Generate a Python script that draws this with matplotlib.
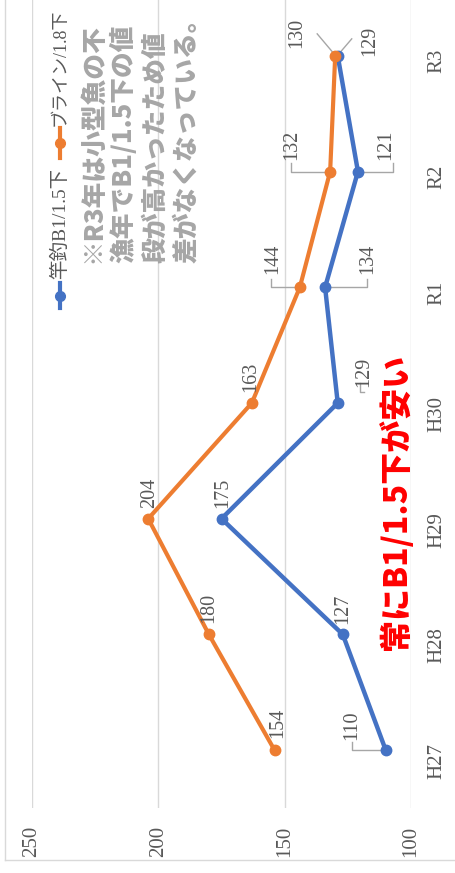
import numpy as np
import matplotlib.pyplot as plt
from matplotlib.lines import Line2D

plt.rcParams['font.family'] = ['Liberation Serif', 'Noto Sans CJK JP']

# data (chart is drawn rotated: values run right-to-left, years bottom-to-top)
years = ['H27', 'H28', 'H29', 'H30', 'R1', 'R2', 'R3']
pole = [110, 127, 175, 129, 134, 121, 129]      # 竿釣B1/1.5下
brine = [154, 180, 204, 163, 144, 132, 130]     # ブライン/1.8下
value_ticks = [100, 150, 200, 250]
series_names = ['竿釣B1/1.5下', 'ブライン/1.8下']
note_lines = ['※R3年は小型魚の不', '漁年でB1/1.5下の値', '段が高かったため値', '差がなくなっている。']
callout = '常にB1/1.5下が安い'

BLUE = '#4472C4'
ORANGE = '#ED7D31'
GRAY = '#595959'

W, H = 455, 873
fig = plt.figure(figsize=(W / 100, H / 100), dpi=100)


def fx(px):
    return px / W


def fy(py):
    return 1 - py / H


ax = fig.add_axes([fx(32), fy(808), fx(411) - fx(32), fy(-2) - fy(808)])
idx = np.arange(len(years))
ax.plot(pole, idx, color=BLUE, lw=3.2, marker='o', ms=7.5, zorder=3)
ax.plot(brine, idx, color=ORANGE, lw=3, marker='o', ms=7.5, zorder=3)

ax.set_xlim(250, 100)
ax.set_ylim(-0.5, len(years) - 0.5)
ax.set_xticks(value_ticks)
ax.set_yticks(idx)
ax.set_yticklabels(years)
ax.yaxis.tick_right()
ax.tick_params(axis='x', length=0, pad=13, labelrotation=90, labelsize=15, labelcolor=GRAY)
ax.tick_params(axis='y', length=0, pad=12, labelrotation=90, labelsize=15, labelcolor=GRAY)
ax.grid(axis='x', color='#D9D9D9', lw=1)
ax.set_axisbelow(True)
for s in ax.spines.values():
    s.set_visible(False)

# data label offsets in pixels (image x right, y down)
pole_off = [(-34, -25), (0, -26), (1, -26), (26, -31), (43, -28), (28, -27), (32, -15)]
brine_off = [(3, -27), (0, -26), (1, -26), (-1, -26), (-27, -28), (-38, -27), (-38, -23)]

for vals, offs in [(pole, pole_off), (brine, brine_off)]:
    for i, (v, (dx, dy)) in enumerate(zip(vals, offs)):
        ax.annotate(str(v), (v, i), xytext=(dx * 0.72, -dy * 0.72), textcoords='offset points',
                    rotation=90, ha='center', va='center', fontsize=14.5, color=GRAY)

# leader lines, pixel offsets from the point
leaders = [
    (pole[0], 0, [(0, 0), (-34, 0), (-34, -8)]),
    (pole[3], 3, [(22, -20), (22, -11), (26, -11)]),
    (pole[4], 4, [(0, 0), (42, 0), (42, -8)]),
    (pole[5], 5, [(0, 0), (35, 0), (35, -9)]),
    (pole[6], 6, [(2, -3), (14, -17)]),
    (brine[4], 4, [(0, 0), (-29, 0), (-29, -8)]),
    (brine[5], 5, [(0, 0), (-39, 0), (-39, -9)]),
    (brine[6], 6, [(-2, -3), (-18, -22)]),
]
for v, i, offs in leaders:
    base = ax.transData.transform((v, i))
    pts = np.array([[base[0] + dx, base[1] - dy] for dx, dy in offs])
    dpts = ax.transData.inverted().transform(pts)
    ax.plot(dpts[:, 0], dpts[:, 1], color='#A6A6A6', lw=1, zorder=2)

# legend drawn by hand (rotated)
fig.add_artist(Line2D([fx(60), fx(60)], [fy(308), fy(283)], color=BLUE, lw=3))
fig.add_artist(Line2D([fx(60)], [fy(296)], color=BLUE, marker='o', ms=7))
fig.text(fx(60), fy(279), series_names[0], rotation=90, ha='center', va='bottom',
         fontsize=14, color=GRAY)
fig.add_artist(Line2D([fx(60), fx(60)], [fy(158), fy(128)], color=ORANGE, lw=3))
fig.add_artist(Line2D([fx(60)], [fy(143)], color=ORANGE, marker='o', ms=7))
fig.text(fx(60), fy(126), series_names[1], rotation=90, ha='center', va='bottom',
         fontsize=13, color=GRAY)

# note
for x, line in zip([92, 123, 155, 186], note_lines):
    fig.text(fx(x), fy(263), line, rotation=90, ha='center', va='bottom', fontsize=18.5,
             fontweight='heavy', color='#A6A6A6', family='Noto Sans CJK JP')

fig.text(fx(396), fy(502), callout, rotation=90, ha='center', va='center', fontsize=23,
         fontweight='heavy', color='red', family='Noto Sans CJK JP')

# chart area border
fig.add_artist(Line2D([fx(5), fx(5)], [fy(0), fy(860)], color='#D9D9D9', lw=1))
fig.add_artist(Line2D([fx(5), fx(455)], [fy(860), fy(860)], color='#D9D9D9', lw=1))

fig.savefig('out.png', dpi=100)
